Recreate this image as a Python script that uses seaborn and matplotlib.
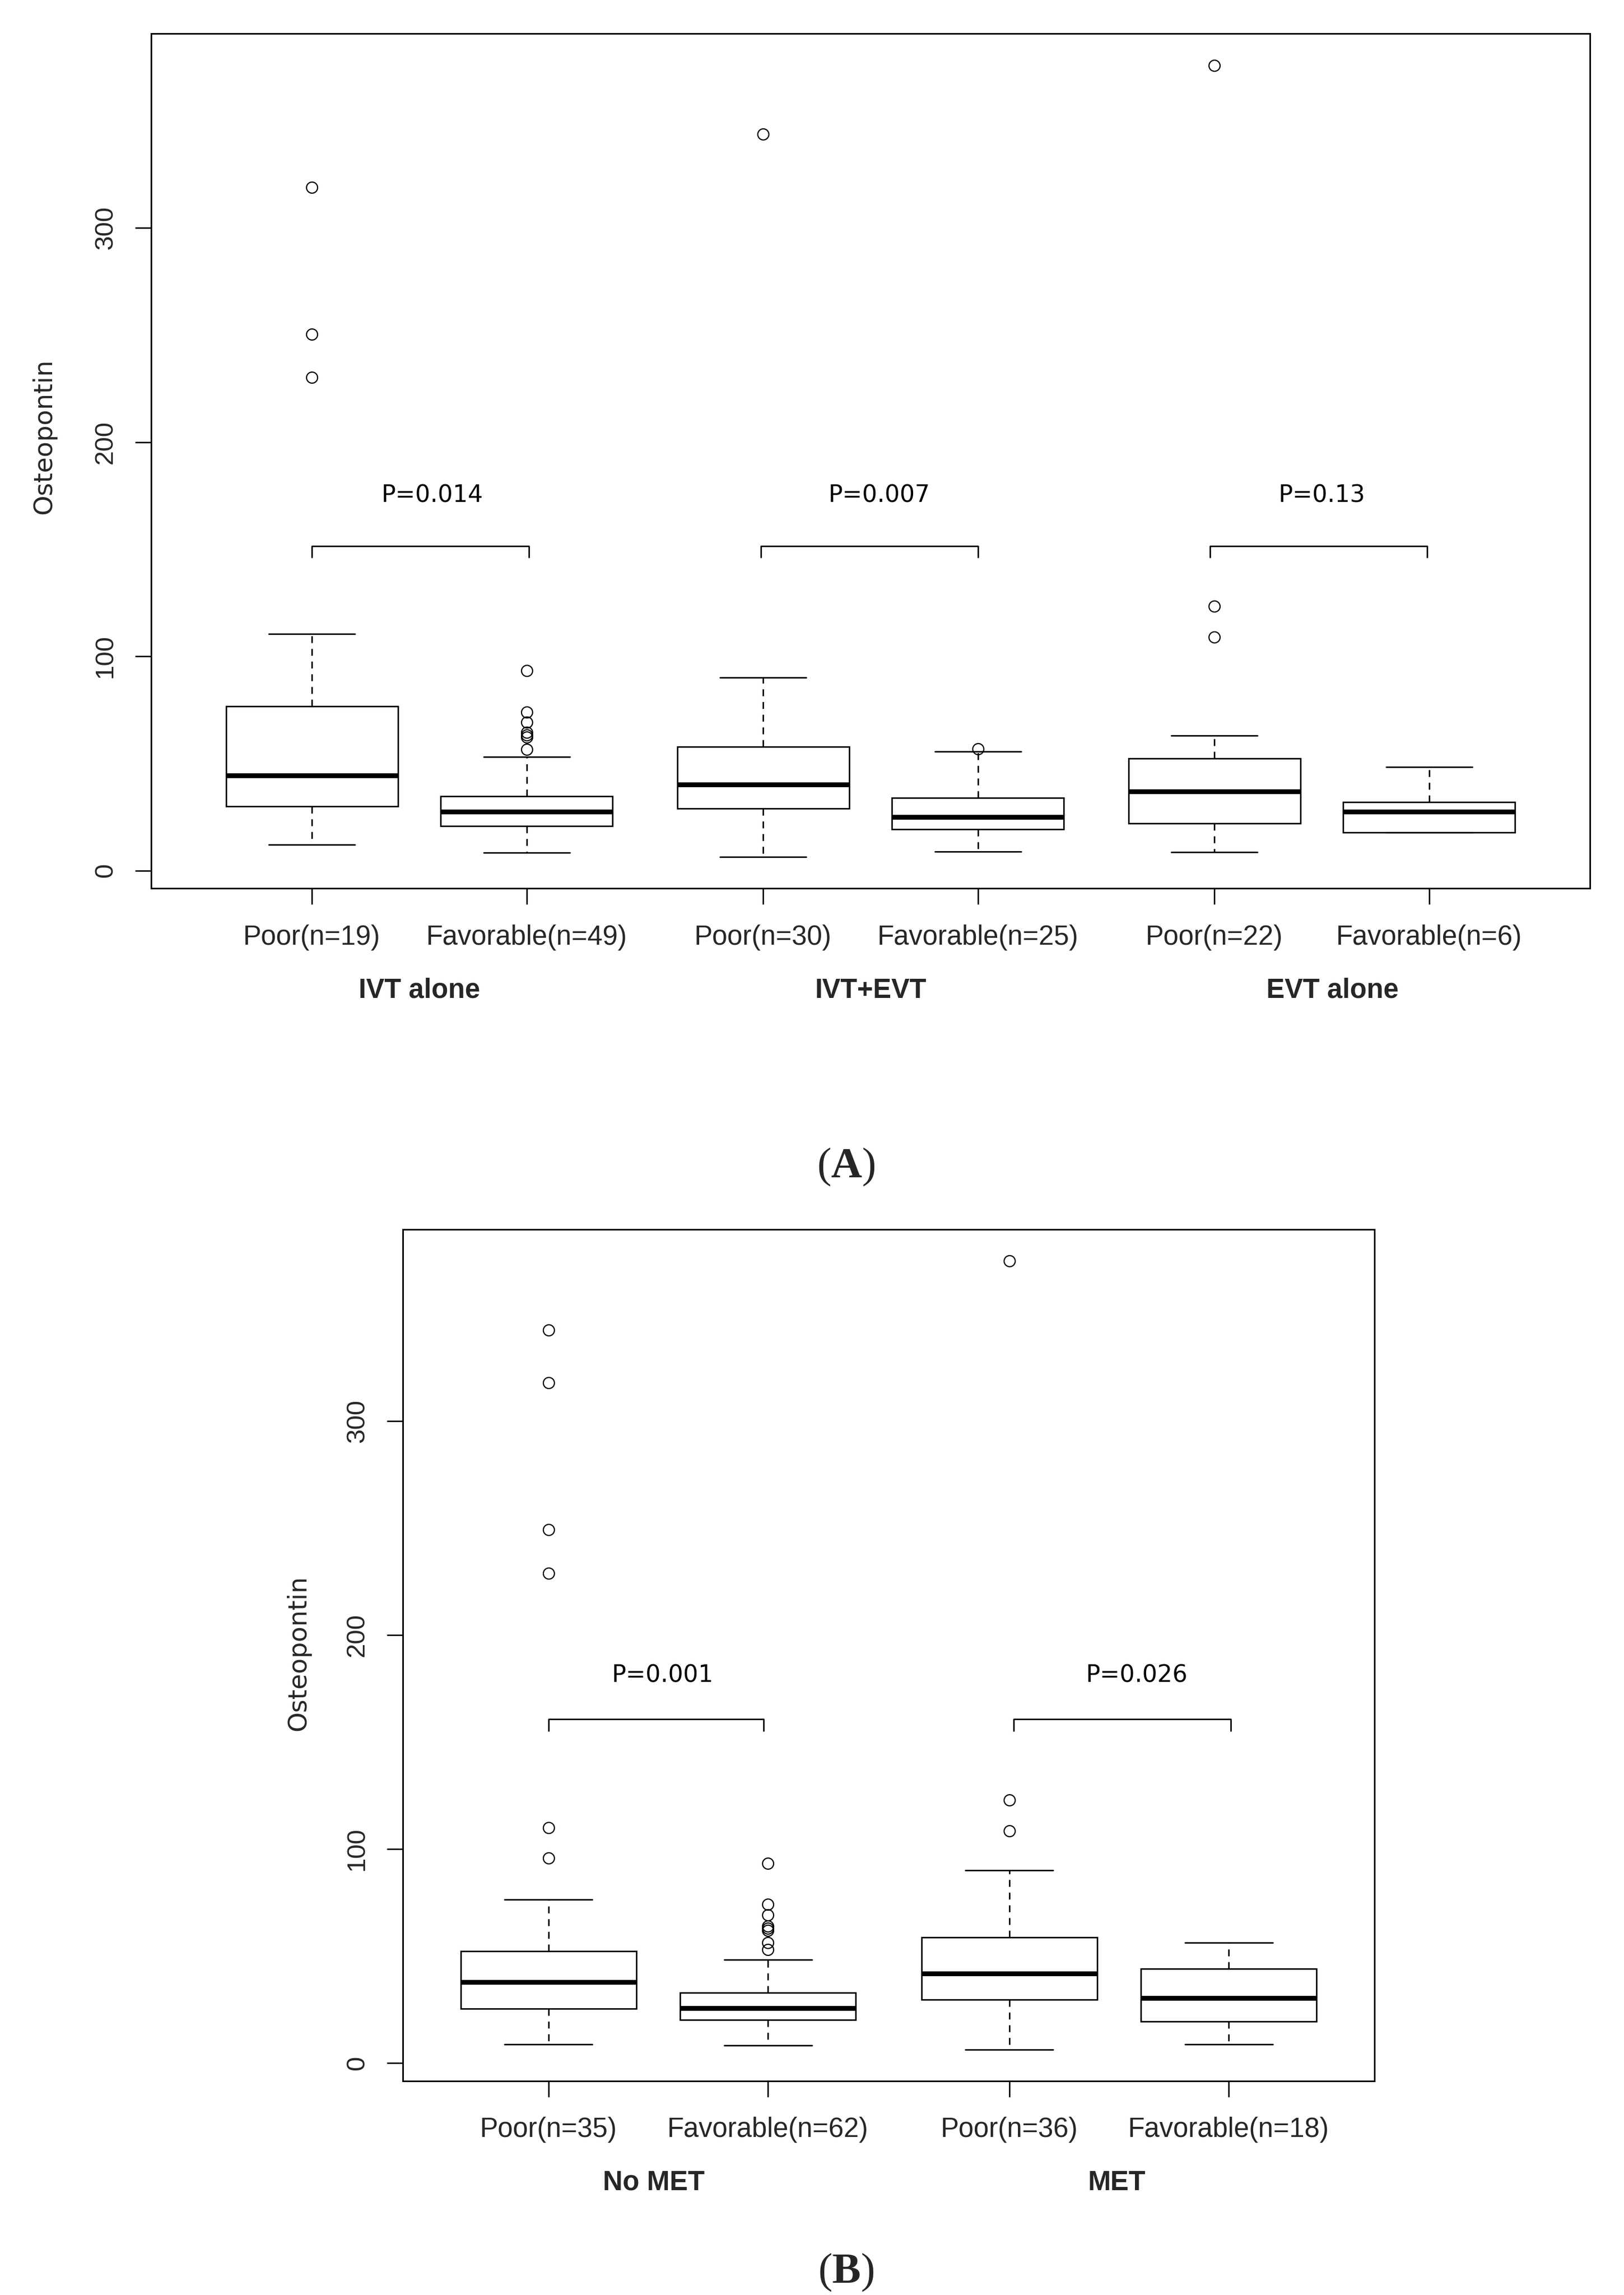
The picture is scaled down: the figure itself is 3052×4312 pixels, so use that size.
import pandas as pd
import matplotlib
matplotlib.use("Agg")
import matplotlib.pyplot as plt
import matplotlib.transforms as mtransforms
import seaborn as sns

# ---------------- panel A: treatment groups ----------------
a_pos = [1.0, 2.0, 3.1, 4.1, 5.2, 6.2]
a_labels = ["Poor(n=19)", "Favorable(n=49)", "Poor(n=30)",
            "Favorable(n=25)", "Poor(n=22)", "Favorable(n=6)"]
a_whislo = [12.0, 8.3, 6.5, 9.0, 8.7, 17.7]
a_q1 = [29.9, 20.9, 29.1, 19.4, 22.0, 17.7]
a_med = [44.3, 27.5, 40.2, 25.1, 37.0, 27.4]
a_q3 = [76.6, 34.6, 57.9, 34.0, 52.4, 32.0]
a_whishi = [110.6, 53.2, 90.2, 55.5, 63.0, 48.4]
a_fliers = [[319.0, 250.3, 230.2],
            [93.4, 74.1, 69.2, 64.5, 63.3, 62.3, 56.5],
            [343.8],
            [56.9],
            [376.0, 123.4, 109.0],
            []]
a_groups = ["IVT alone", "IVT+EVT", "EVT alone"]
a_group_x = [1.5, 3.6, 5.75]
a_pvals = ["P=0.014", "P=0.007", "P=0.13"]
a_p_x = [1.56, 3.64, 5.70]
a_br_left = [1.0, 3.09, 5.18]
a_br_right = [2.01, 4.1, 6.19]
a_br_y = 151.6
a_p_y = 175.0

# ---------------- panel B: MET ----------------
b_pos = [1.0, 2.0, 3.1, 4.1]
b_labels = ["Poor(n=35)", "Favorable(n=62)", "Poor(n=36)", "Favorable(n=18)"]
b_whislo = [8.7, 8.1, 6.3, 8.7]
b_q1 = [25.5, 20.1, 29.6, 19.3]
b_med = [37.8, 25.7, 41.8, 30.4]
b_q3 = [52.2, 32.8, 58.7, 44.0]
b_whishi = [76.4, 48.2, 90.0, 56.3]
b_fliers = [[342.4, 317.7, 249.2, 228.8, 110.0, 95.7],
            [93.2, 74.1, 69.1, 64.0, 63.0, 62.0, 56.3, 53.0],
            [374.7, 122.8, 108.4],
            []]
b_groups = ["No MET", "MET"]
b_group_x = [1.48, 3.59]
b_pvals = ["P=0.001", "P=0.026"]
b_p_x = [1.52, 3.68]
b_br_left = [1.0, 3.12]
b_br_right = [1.98, 4.11]
b_br_y = 160.6
b_p_y = 181.0


def box_table(pos, lo, q1, med, q3, hi, fliers):
    # long table whose quartiles / whiskers reproduce the summary values
    rows = []
    for p, a, b, c, d, e, f in zip(pos, lo, q1, med, q3, hi, fliers):
        k = len(f)
        vals = [a] * (k + 1) + [b] * (k + 1) + [c] + [d] * (k + 1) + [e] + list(f)
        rows += [(p, v) for v in vals]
    return pd.DataFrame(rows, columns=["pos", "value"])


sns.set_style("ticks")
plt.rcParams["font.family"] = ["DejaVu Sans"]
plt.rcParams["mathtext.fontset"] = "custom"
plt.rcParams["mathtext.bf"] = "Liberation Serif:bold"
plt.rcParams["mathtext.rm"] = "Liberation Serif"

ARIAL = ["Liberation Sans", "DejaVu Sans"]
LW = 1.95

fig = plt.figure(figsize=(30.52, 43.12), dpi=100)
ax_a = fig.add_axes([0.09305, 0.61293, 0.88598, 0.37245])
ax_b = fig.add_axes([0.24803, 0.09323, 0.59830, 0.37106])


def draw_panel(ax, df, pos, labels, groups, group_x, pvals, p_x,
               br_left, br_right, br_y, p_y, ylab_x, ylab_y):
    sns.boxplot(data=df, x="pos", y="value", native_scale=True, width=0.8,
                color="white", linecolor="black", linewidth=LW, saturation=1,
                whis=1.5, fliersize=15, ax=ax,
                medianprops=dict(linewidth=6.5, color="black"),
                whiskerprops=dict(linestyle=(0, (4.8, 4.0)), color="black"),
                capprops=dict(color="black"),
                flierprops=dict(marker="o", markerfacecolor="none",
                                markeredgecolor="black", markeredgewidth=1.6))

    # R-like axis ranges (4% padding)
    xr = (min(pos) - 0.5, max(pos) + 0.5)
    xp = 0.04 * (xr[1] - xr[0])
    ax.set_xlim(xr[0] - xp, xr[1] + xp)
    vmin, vmax = df["value"].min(), df["value"].max()
    yp = 0.04 * (vmax - vmin)
    ax.set_ylim(vmin - yp, vmax + yp)

    ax.set_xticks(pos)
    ax.set_xticklabels(labels, fontsize=37, family=ARIAL)
    ax.set_yticks([0, 100, 200, 300])
    ax.set_yticklabels(["0", "100", "200", "300"], fontsize=35.5,
                       family=ARIAL, rotation=90, va="center")
    ax.tick_params(axis="both", direction="out", length=21.6, width=1.9,
                   color="black")
    ax.tick_params(axis="x", pad=27)
    ax.tick_params(axis="y", pad=24)
    ax.set_xlabel("")
    ax.set_ylabel("")
    for s in ax.spines.values():
        s.set_visible(True)
        s.set_linewidth(2.1)
        s.set_color("black")

    # significance brackets
    drop = 5.6
    for x1, x2 in zip(br_left, br_right):
        ax.plot([x1, x1, x2, x2], [br_y - drop, br_y, br_y, br_y - drop],
                color="black", lw=LW, solid_capstyle="butt")
    for x, t in zip(p_x, pvals):
        ax.text(x, p_y, t, ha="center", va="center", fontsize=32,
                color="black")

    trans = mtransforms.blended_transform_factory(ax.transData, ax.transAxes)
    for x, g in zip(group_x, groups):
        ax.text(x, -0.1196, g, transform=trans, ha="center", va="center",
                fontsize=37, fontweight="bold", family=ARIAL)

    ax.text(ylab_x, ylab_y, "Osteopontin", transform=ax.transAxes,
            rotation=90, ha="center", va="center", fontsize=34.5)


df_a = box_table(a_pos, a_whislo, a_q1, a_med, a_q3, a_whishi, a_fliers)
df_b = box_table(b_pos, b_whislo, b_q1, b_med, b_q3, b_whishi, b_fliers)

draw_panel(ax_a, df_a, a_pos, a_labels, a_groups, a_group_x, a_pvals, a_p_x,
           a_br_left, a_br_right, a_br_y, a_p_y, -0.0743, 0.5287)
draw_panel(ax_b, df_b, b_pos, b_labels, b_groups, b_group_x, b_pvals, b_p_x,
           b_br_left, b_br_right, b_br_y, b_p_y, -0.1073, 0.5025)

fig.text(0.521, 0.4915, r"($\mathbf{A}$)", ha="center", va="center",
         fontsize=58, family="Liberation Serif")
fig.text(0.521, 0.0098, r"($\mathbf{B}$)", ha="center", va="center",
         fontsize=58, family="Liberation Serif")

fig.savefig("out.png", dpi=100)
